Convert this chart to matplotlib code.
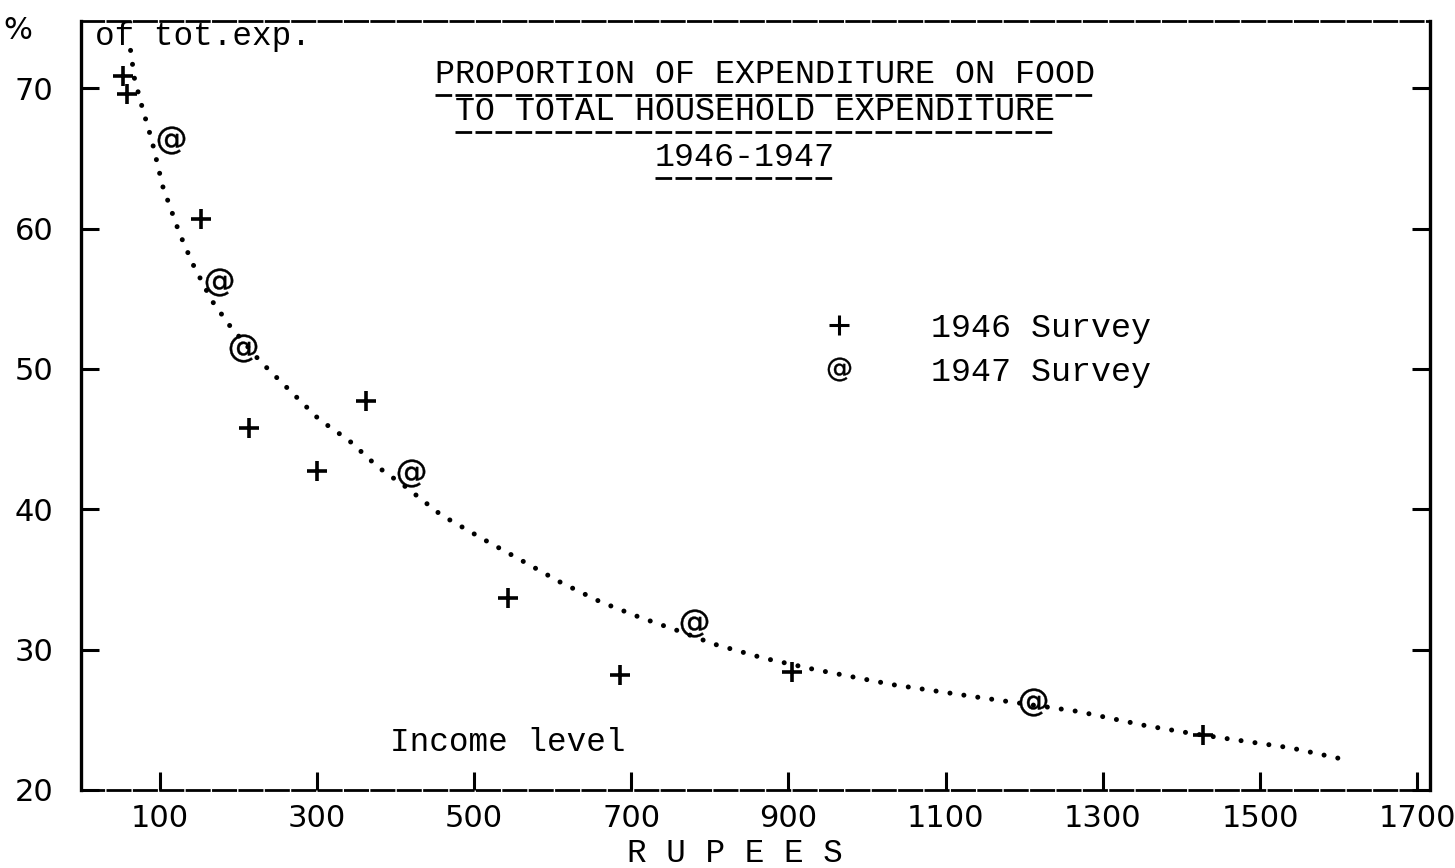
import matplotlib
matplotlib.use("Agg")
import matplotlib.pyplot as plt
from matplotlib.lines import Line2D

# ---- values ----
inc_1946 = [53, 58, 153, 214, 300, 363, 543, 686, 904, 1427]
pct_1946 = [70.9, 69.6, 60.7, 45.8, 42.7, 47.7, 33.7, 28.2, 28.4, 23.9]

inc_1947 = [115, 176, 206, 420, 780, 1211]
pct_1947 = [66.3, 56.2, 51.5, 42.6, 31.9, 26.3]

# hand-drawn dotted curve
curve_x = [63, 68, 78, 90, 104, 125, 142, 166, 189, 227, 265, 303, 341, 378,
           413, 458, 514, 559, 610, 661, 711, 762, 805, 868, 932, 1033, 1142,
           1268, 1353, 1416, 1539, 1613]
curve_y = [72.7, 70.7, 68.6, 66.3, 63.0, 59.7, 57.5, 54.9, 53.1, 50.6, 48.5,
           46.4, 44.9, 43.0, 41.6, 39.6, 37.8, 36.4, 34.8, 33.4, 32.3, 31.3,
           30.4, 29.4, 28.6, 27.5, 26.6, 25.6, 24.6, 24.0, 23.0, 22.1]

x_ticks = [100, 300, 500, 700, 900, 1100, 1300, 1500, 1700]
y_ticks = [20, 30, 40, 50, 60, 70]

title_lines = ["PROPORTION OF EXPENDITURE ON FOOD",
               "TO TOTAL HOUSEHOLD EXPENDITURE",
               "1946-1947"]

MONO = "Liberation Mono"

fig = plt.figure(figsize=(14.55, 8.68), dpi=100)
ax = fig.add_axes([0.0557, 0.0899, 0.927, 0.886])

# ---- curve and points ----
ax.plot(curve_x, curve_y, color="black", lw=3.6,
        linestyle=(0, (0.01, 2.8)), dash_capstyle="round")
ax.plot(inc_1946, pct_1946, linestyle="none", marker="+", markersize=14,
        mew=2.6, color="black")
ax.plot(inc_1947, pct_1947, linestyle="none", marker="$@$", markersize=20,
        mew=0.3, color="black")

ax.set_xlim(0, 1716)
ax.set_ylim(20, 74.8)
ax.set_xticks(x_ticks)
ax.set_yticks(y_ticks)
ax.tick_params(axis="both", direction="in", length=13, width=2.2,
               labelsize=22, colors="black")
ax.tick_params(axis="x", pad=10)
ax.tick_params(axis="y", pad=20, right=True)
for lab in ax.get_xticklabels() + ax.get_yticklabels():
    lab.set_family("DejaVu Sans")

for side in ["left", "right"]:
    ax.spines[side].set_linewidth(2.4)
for side in ["top", "bottom"]:
    ax.spines[side].set_linewidth(2.0)
    ax.spines[side].set_linestyle((0, (8, 1.5)))

# ---- texts ----
ax.text(-0.047, 0.988, "%", transform=ax.transAxes, fontsize=22,
        family="DejaVu Sans", ha="center", va="center")
ax.text(0.010, 1.0, "of tot.exp.", transform=ax.transAxes, fontsize=23.5,
        family=MONO, ha="left", va="top")
ax.text(0.229, 0.062, "Income level", transform=ax.transAxes, fontsize=23.5,
        family=MONO, ha="left", va="center")
ax.text(0.485, -0.083, "R U P E E S", transform=ax.transAxes, fontsize=23.5,
        family=MONO, ha="center", va="center")

title_pos = [(0.507, 0.930), (0.500, 0.882), (0.492, 0.822)]
title_texts = []
for (tx, ty), line in zip(title_pos, title_lines):
    title_texts.append(ax.text(tx, ty, line, transform=ax.transAxes,
                               fontsize=24, family=MONO, ha="center",
                               va="center"))

# legend
handles = [Line2D([], [], linestyle="none", marker="+", markersize=14,
                  mew=2.2, color="black"),
           Line2D([], [], linestyle="none", marker="$@$", markersize=17,
                  mew=0.3, color="black")]
ax.legend(handles, ["1946 Survey", "1947 Survey"], loc="upper left",
          bbox_to_anchor=(0.537, 0.620), frameon=False, borderpad=0,
          borderaxespad=0, handlelength=2.0, handletextpad=1.76,
          labelspacing=0.38, prop={"family": MONO, "size": 24})

# underline the title lines using their rendered extents
fig.canvas.draw()
inv = ax.transAxes.inverted()
for t in title_texts:
    bb = t.get_window_extent()
    (x0, y0), (x1, y1) = inv.transform([(bb.x0, bb.y0), (bb.x1, bb.y1)])
    ax.plot([x0, x1], [y0 - 0.006, y0 - 0.006], transform=ax.transAxes,
            color="black", lw=2.0, linestyle=(0, (6, 1.2)), clip_on=False)

fig.savefig("out.png", dpi=100, facecolor="white")
